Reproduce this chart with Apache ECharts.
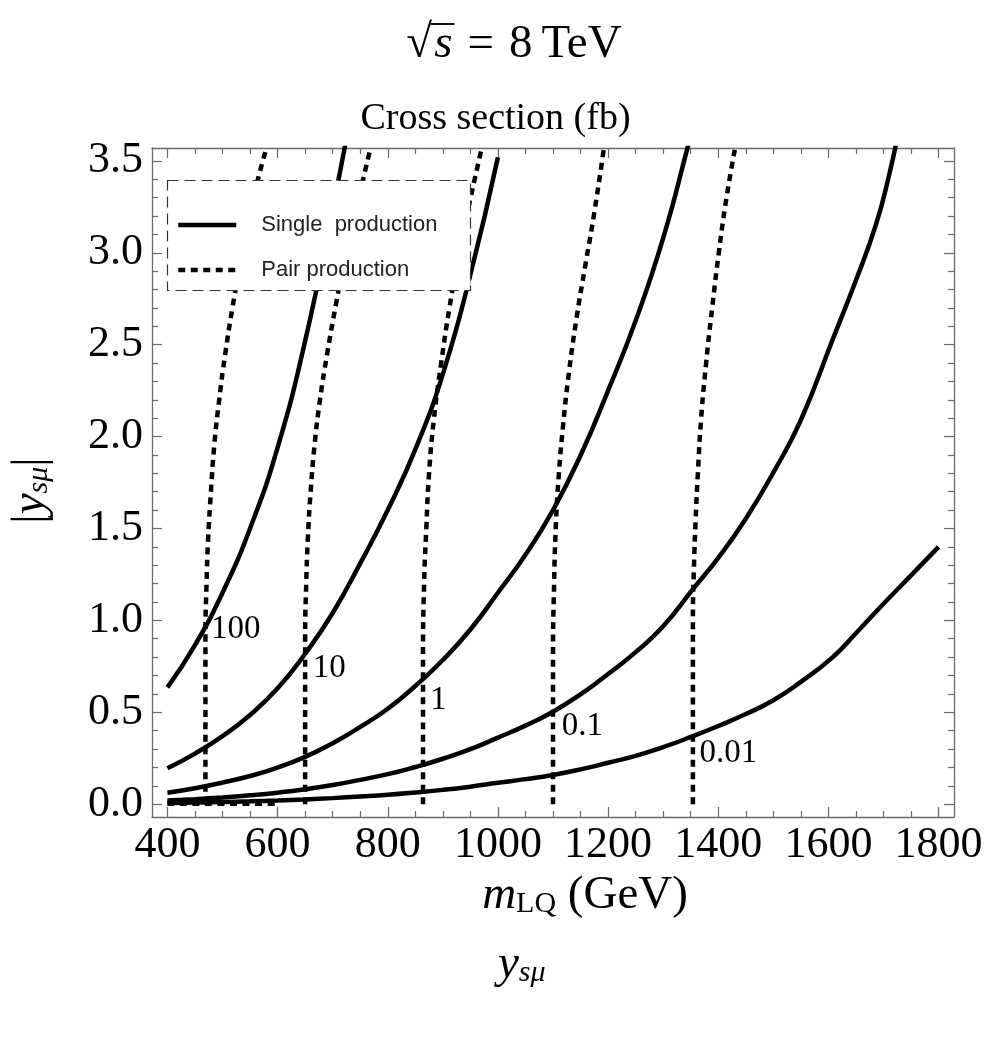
<!DOCTYPE html>
<html>
<head>
<meta charset="utf-8">
<script src="https://cdn.jsdelivr.net/npm/echarts@6/dist/echarts.min.js"></script>
<style>
html,body{margin:0;padding:0;background:#fff;}
#chart{width:991px;height:1042px;}
</style>
</head>
<body>
<div id="chart"></div>
<script>
// ---- tick values ----
const xMajor = [400, 600, 800, 1000, 1200, 1400, 1600, 1800];
const xMinor = [450, 500, 550, 650, 700, 750, 850, 900, 950, 1050, 1100, 1150, 1250, 1300, 1350, 1450, 1500, 1550, 1650, 1700, 1750];
const yMajor = [0, 0.5, 1.0, 1.5, 2.0, 2.5, 3.0, 3.5];
const yMinor = [0.1, 0.2, 0.3, 0.4, 0.6, 0.7, 0.8, 0.9, 1.1, 1.2, 1.3, 1.4, 1.6, 1.7, 1.8, 1.9, 2.1, 2.2, 2.3, 2.4, 2.6, 2.7, 2.8, 2.9, 3.1, 3.2, 3.3, 3.4];

// ---- single production contours [m_LQ (GeV), |y_smu|] ----
const single100 = [[400,0.635],[450,0.865],[500,1.15],[550,1.50],[600,1.94],[650,2.52],[700,3.24],[730,3.70]];
const single10 = [[400,0.195],[450,0.275],[500,0.37],[550,0.485],[600,0.63],[650,0.818],[700,1.04],[750,1.31],[800,1.60],[850,1.93],[900,2.34],[950,2.88],[1000,3.52]];
const single1 = [[400,0.062],[450,0.0865],[500,0.117],[550,0.153],[600,0.199],[650,0.257],[700,0.331],[750,0.42],[800,0.519],[850,0.643],[900,0.784],[950,0.95],[1000,1.15],[1050,1.357],[1100,1.60],[1150,1.897],[1200,2.25],[1250,2.63],[1300,3.08],[1345,3.58],[1355,3.70]];
const single01 = [[400,0.0195],[450,0.0272],[500,0.0367],[550,0.0481],[600,0.0625],[650,0.0809],[700,0.104],[750,0.132],[800,0.163],[850,0.202],[900,0.247],[950,0.299],[1000,0.362],[1050,0.427],[1100,0.503],[1150,0.597],[1200,0.708],[1250,0.827],[1300,0.968],[1354,1.17],[1400,1.34],[1450,1.553],[1503,1.82],[1550,2.09],[1608,2.53],[1650,2.85],[1687,3.16],[1710,3.42],[1730,3.70]];
const single001 = [[400,0.0061],[450,0.0086],[500,0.0116],[550,0.0151],[600,0.0197],[650,0.0255],[700,0.0327],[750,0.0416],[800,0.0514],[850,0.0637],[900,0.0776],[950,0.095],[1000,0.116],[1050,0.136],[1100,0.159],[1150,0.189],[1200,0.225],[1250,0.263],[1300,0.31],[1354,0.37],[1400,0.425],[1450,0.49],[1500,0.565],[1550,0.665],[1608,0.80],[1650,0.93],[1700,1.09],[1750,1.245],[1800,1.40]];

// ---- pair production contours [m_LQ (GeV), |y_smu|] ----
const pair100 = [[469,0],[469,0.9],[471,1.2],[474,1.45],[479,1.7],[485,1.95],[494,2.2],[505,2.45],[518,2.7],[533,2.95],[549,3.2],[566,3.42],[580,3.57]];
const pair100Low = [[400,0.002],[595,0.002]];
const pair10 = [[650,0],[650,0.9],[652,1.2],[655,1.45],[660,1.7],[667,1.95],[677,2.2],[690,2.45],[706,2.72],[724,3.0],[745,3.27],[768,3.56]];
const pair1 = [[864,0],[864,0.8],[866,1.2],[870,1.5],[875,1.8],[884,2.1],[897,2.4],[912,2.7],[930,3.0],[949,3.28],[970,3.56]];
const pair01 = [[1100,0],[1100,0.8],[1102,1.2],[1105,1.5],[1110,1.77],[1118,2.05],[1129,2.35],[1143,2.65],[1158,2.92],[1174,3.2],[1192,3.56]];
const pair001 = [[1354,0],[1354,1.0],[1356,1.3],[1359,1.55],[1363,1.8],[1369,2.1],[1378,2.4],[1389,2.7],[1401,3.0],[1415,3.3],[1430,3.56]];

// ---- contour labels (fb) ----
const contourLabels = ['100', '10', '1', '0.1', '0.01'];
const contourLabelX = [479, 664, 877, 1116, 1366];
const contourLabelY = [0.95, 0.74, 0.567, 0.425, 0.278];

const SERIF = 'Liberation Serif';
const frameColor = '#6a6a6a';

const chart = echarts.init(document.getElementById('chart'), null, {renderer: 'canvas'});

function solid(data) {
  return {type: 'line', name: 'Single production', data: data, showSymbol: false, symbol: 'none',
    smooth: 0.5, clip: true, lineStyle: {color: '#000', width: 4.5, cap: 'butt'}, itemStyle: {color: '#000'},
    xAxisIndex: 0, yAxisIndex: 0, z: 2, silent: true};
}
function dotted(data) {
  return {type: 'line', name: 'Pair production', data: data, showSymbol: false, symbol: 'none',
    smooth: 0.5, clip: true, lineStyle: {color: '#000', width: 4.5, type: [7, 5.5], cap: 'butt'}, itemStyle: {color: '#000'},
    xAxisIndex: 0, yAxisIndex: 0, z: 2, silent: true};
}

function xAx(pos, values, len, withLabels) {
  return {type: 'value', min: 372, max: 1828, position: pos, gridIndex: 0,
    axisLine: {show: withLabels !== null, onZero: false, lineStyle: {color: frameColor, width: 1.3}},
    axisTick: {show: true, inside: true, length: len, customValues: values, lineStyle: {color: frameColor, width: 1.2}},
    axisLabel: withLabels ? {show: true, customValues: values, fontFamily: SERIF, fontSize: 44, color: '#000', margin: 6,
      formatter: v => String(Math.round(v))} : {show: false},
    splitLine: {show: false}};
}
function yAx(pos, values, len, withLabels) {
  return {type: 'value', min: -0.07, max: 3.57, position: pos, gridIndex: 0,
    axisLine: {show: withLabels !== null, onZero: false, lineStyle: {color: frameColor, width: 1.3}},
    axisTick: {show: true, inside: true, length: len, customValues: values, lineStyle: {color: frameColor, width: 1.2}},
    axisLabel: withLabels ? {show: true, customValues: values, fontFamily: SERIF, fontSize: 44, color: '#000', margin: 9,
      formatter: v => v.toFixed(1)} : {show: false},
    splitLine: {show: false}};
}

const mathRich = {
  i: {fontFamily: SERIF, fontStyle: 'italic', fontSize: 47, lineHeight: 48, verticalAlign: 'bottom', color: '#000'},
  si: {fontFamily: SERIF, fontStyle: 'italic', fontSize: 30, lineHeight: 22, verticalAlign: 'bottom', color: '#000'},
  s: {fontFamily: SERIF, fontSize: 30, lineHeight: 22, verticalAlign: 'bottom', color: '#000'},
  r: {fontFamily: SERIF, fontSize: 47, lineHeight: 48, verticalAlign: 'bottom', color: '#000'}
};

const xAxes = [xAx('bottom', xMajor, 10, true), xAx('bottom', xMinor, 6, null), xAx('top', xMajor, 10, false), xAx('top', xMinor, 6, null)];
Object.assign(xAxes[0], {
  name: '{i|m}{s|LQ}{r| (GeV)}', nameLocation: 'middle', nameGap: 37,
  nameTextStyle: {fontFamily: SERIF, color: '#000', rich: mathRich, padding: [0, 0, 0, 64]}
});
const yAxes = [yAx('left', yMajor, 10, true), yAx('left', yMinor, 6, null), yAx('right', yMajor, 10, false), yAx('right', yMinor, 6, null)];
Object.assign(yAxes[0], {
  name: '{r||}{i|y}{si|sμ}{r||}', nameLocation: 'middle', nameGap: 98, nameRotate: 90,
  nameTextStyle: {fontFamily: SERIF, color: '#000', rich: mathRich, padding: [0, 16, 0, 0]}
});

const series = [
  solid(single100), solid(single10), solid(single1), solid(single01), solid(single001),
  dotted(pair100), dotted(pair100Low), dotted(pair10), dotted(pair1), dotted(pair01), dotted(pair001),
  {type: 'scatter', name: 'labels', xAxisIndex: 0, yAxisIndex: 0, symbolSize: 0.01, itemStyle: {color: '#000'},
   silent: true, z: 3,
   data: contourLabels.map((t, i) => ({value: [contourLabelX[i], contourLabelY[i]], name: t})),
   label: {show: true, position: 'right', distance: 0, formatter: p => p.name, fontFamily: SERIF, fontSize: 33,
     color: '#000', opacity: 1, textBorderWidth: 0}}
];

// ---- title "√s = 8 TeV" laid out as text pieces ----
const ctx = document.createElement('canvas').getContext('2d');
const tSize = 47;
function tw(txt, italic) { ctx.font = (italic ? 'italic ' : '') + tSize + 'px "' + SERIF + '"'; return ctx.measureText(txt).width; }
const pieces = [['√', false, 0], ['s', true, 2], ['=', false, 15], ['8', false, 15], ['TeV', false, 9]];
let total = 0; pieces.forEach(p => { total += p[2] + tw(p[0], p[1]); });
const titleCx = 514, titleTop = 21;
let cx = titleCx - total / 2;
const titleEls = [];
let sqrtRight = 0, sRight = 0;
pieces.forEach((p, k) => {
  cx += p[2];
  titleEls.push({type: 'text', x: cx, y: titleTop, silent: true, style: {text: p[0], fill: '#000',
    font: (p[1] ? 'italic ' : '') + tSize + 'px "' + SERIF + '"', verticalAlign: 'top'}});
  const w = tw(p[0], p[1]);
  if (k === 0) sqrtRight = cx + w;
  if (k === 1) sRight = cx + w;
  cx += w;
});
titleEls.push({type: 'line', silent: true, shape: {x1: sqrtRight - 1.5, y1: titleTop + 3, x2: sRight + 2, y2: titleTop + 3},
  style: {stroke: '#000', lineWidth: 1.9}});

chart.setOption({
  animation: false,
  backgroundColor: '#fff',
  title: [
    {text: 'Cross section (fb)', left: 'center', top: 95,
     textStyle: {fontFamily: SERIF, fontWeight: 'normal', fontSize: 38, color: '#000'}},
    {text: '{i|y}{si|sμ}', left: 493, top: 935,
     textStyle: {fontFamily: SERIF, fontWeight: 'normal', color: '#000', rich: mathRich}}
  ],
  grid: {left: 152, right: 37, top: 148, bottom: 225, containLabel: false, outerBoundsMode: 'none'},
  xAxis: xAxes,
  yAxis: yAxes,
  legend: {
    data: ['Single production', 'Pair production'], orient: 'vertical', left: 171, top: 209,
    itemWidth: 58, itemHeight: 14, itemGap: 23, selectedMode: false, z: 5,
    lineStyle: {width: 4.5}, itemStyle: {opacity: 0, borderWidth: 0},
    formatter: n => n === 'Single production' ? 'Single  production' : n,
    textStyle: {fontFamily: 'Liberation Sans', fontSize: 22, color: '#222', padding: [0, 0, 0, 20]}
  },
  graphic: [
    {type: 'rect', z: 3, silent: true, shape: {x: 167.5, y: 180.5, width: 303, height: 110},
     style: {fill: '#fff', stroke: '#333', lineWidth: 1.2, lineDash: [11, 6]}},
    {type: 'group', silent: true, children: titleEls}
  ],
  series: series
});
</script>
</body>
</html>
